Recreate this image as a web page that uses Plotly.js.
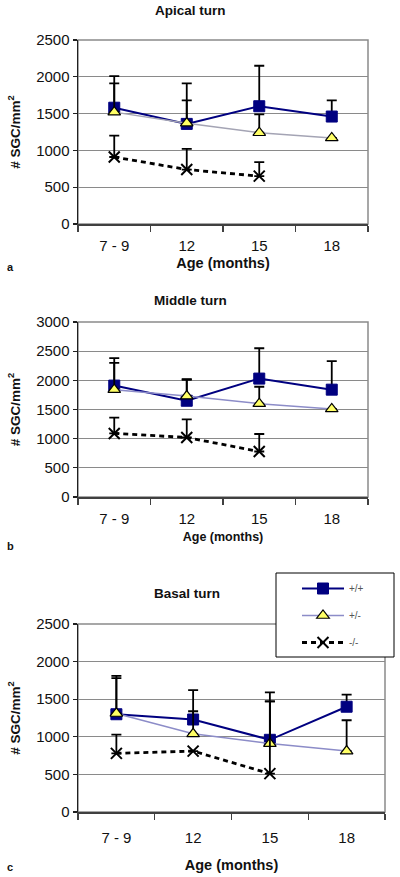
<!DOCTYPE html>
<html>
<head>
<meta charset="utf-8">
<script src="https://cdn.plot.ly/plotly-3.0.1.min.js"></script>
<style>html,body{margin:0;padding:0;background:#fff}#chart{width:400px;height:877px}</style>
</head>
<body>
<div id="chart"></div>
<script>
// ---- data ----
const categories = ['7 - 9', '12', '15', '18'];
const seriesNames = ['+/+', '+/-', '-/-'];
const panelTitles = ['Apical turn', 'Middle turn', 'Basal turn'];
const panelLetters = ['a', 'b', 'c'];
const xTitle = 'Age (months)';
const yTitle = '# SGC/mm<sup>2</sup>';
const yMax = [2500, 3000, 2500];

// Apical turn
const apicalWT = [1580, 1360, 1600, 1460];
const apicalWTErr = [430, 550, 550, 220];
const apicalHet = [1520, 1370, 1240, 1170];
const apicalHetErr = [390, 310, 250, 0];
const apicalKO = [910, 740, 650, null];
const apicalKOErr = [290, 280, 190, 0];

// Middle turn
const middleWT = [1910, 1650, 2030, 1840];
const middleWTErr = [470, 370, 520, 490];
const middleHet = [1840, 1730, 1600, 1510];
const middleHetErr = [460, 280, 290, 0];
const middleKO = [1090, 1020, 780, null];
const middleKOErr = [270, 310, 300, 0];

// Basal turn
const basalWT = [1300, 1230, 960, 1400];
const basalWTErr = [510, 390, 630, 160];
const basalHet = [1310, 1040, 910, 810];
const basalHetErr = [470, 300, 560, 410];
const basalKO = [780, 810, 510, null];
const basalKOErr = [250, 0, 960, 0];

const panels = [
  {wt: apicalWT, wtErr: apicalWTErr, het: apicalHet, hetErr: apicalHetErr, ko: apicalKO, koErr: apicalKOErr, hetColor: '#a4a4b4'},
  {wt: middleWT, wtErr: middleWTErr, het: middleHet, hetErr: middleHetErr, ko: middleKO, koErr: middleKOErr, hetColor: '#8c8cc8'},
  {wt: basalWT, wtErr: basalWTErr, het: basalHet, hetErr: basalHetErr, ko: basalKO, koErr: basalKOErr, hetColor: '#8c8cc8'}
];

// ---- layout geometry (pixels) ----
const W = 400, H = 877;
const FONT = 'Liberation Sans, Arial, sans-serif';
const boxes = [
  {l: 78, r: 368, t: 40, b: 224, titleY: 11, letterY: 267, titleX: 190, tls: 7, xts: 5, xtSize: 14.5},
  {l: 78, r: 368, t: 322, b: 497, titleY: 300, letterY: 546, titleX: 190, tls: 7, xts: 6, xtSize: 12.5},
  {l: 78, r: 385, t: 624, b: 812, titleY: 593, letterY: 867, titleX: 187, tls: 11, xts: 15, xtSize: 14.5}
];
const px = v => v / W;
const py = v => 1 - v / H;

function errBar(arr) {
  return {type: 'data', symmetric: false, array: arr, arrayminus: arr.map(() => 0),
          color: '#000', thickness: 1.8, width: 5, visible: true};
}

const traces = [];
panels.forEach((p, i) => {
  const xa = i === 0 ? 'x' : 'x' + (i + 1);
  const ya = i === 0 ? 'y' : 'y' + (i + 1);
  const leg = i === 2;
  traces.push({
    type: 'scatter', mode: 'lines+markers', name: seriesNames[0], legendgroup: 'g1', showlegend: leg,
    x: categories, y: p.wt, xaxis: xa, yaxis: ya, error_y: errBar(p.wtErr),
    line: {color: '#000080', width: 2},
    marker: {symbol: 'square', size: 11, color: '#000080', line: {color: '#000080', width: 1}}
  });
  traces.push({
    type: 'scatter', mode: 'lines+markers', name: seriesNames[1], legendgroup: 'g2', showlegend: leg,
    x: categories, y: p.het, xaxis: xa, yaxis: ya, error_y: errBar(p.hetErr),
    line: {color: p.hetColor, width: 1.5},
    marker: {symbol: 'triangle-up', size: 11, color: '#ffff66', line: {color: '#000', width: 1.2}}
  });
  traces.push({
    type: 'scatter', mode: 'lines+markers', name: seriesNames[2], legendgroup: 'g3', showlegend: leg,
    x: categories, y: p.ko, xaxis: xa, yaxis: ya, error_y: errBar(p.koErr),
    line: {color: '#000', width: 2.8, dash: '5px,4px'},
    marker: {symbol: 'x-thin', size: 11, color: '#000', line: {color: '#000', width: 2}}
  });
});

const layout = {
  width: W, height: H,
  margin: {l: 0, r: 0, t: 0, b: 0},
  paper_bgcolor: '#fff', plot_bgcolor: 'rgba(0,0,0,0)',
  showlegend: true,
  legend: {
    x: px(297), y: py(574), xanchor: 'left', yanchor: 'top',
    bgcolor: 'rgba(0,0,0,0)', borderwidth: 0,
    font: {family: FONT, size: 10, color: '#555'},
    itemwidth: 42, tracegroupgap: 8, traceorder: 'grouped'
  },
  annotations: [],
  shapes: []
};

boxes.forEach((b, i) => {
  const sfx = i === 0 ? '' : String(i + 1);
  layout['xaxis' + sfx] = {
    domain: [px(b.l), px(b.r)], anchor: 'y' + sfx,
    type: 'category', range: [-0.5, 3.5], tickson: 'boundaries',
    ticks: 'outside', ticklen: 6, tickwidth: 1.2, tickcolor: '#404040',
    ticklabelstandoff: b.tls,
    showline: true, linecolor: '#404040', linewidth: 1.5,
    showgrid: false, zeroline: false, fixedrange: true,
    tickfont: {family: FONT, size: 15, color: '#111'},
    title: {text: xTitle, standoff: b.xts,
            font: {family: FONT, size: b.xtSize, weight: 'bold', color: '#111'}}
  };
  layout['yaxis' + sfx] = {
    domain: [py(b.b), py(b.t)], anchor: 'x' + sfx,
    range: [0, yMax[i]], dtick: 500, tick0: 0,
    ticks: 'outside', ticklen: 4, tickwidth: 1.2, tickcolor: '#202020',
    showline: true, linecolor: '#202020', linewidth: 1.5,
    showgrid: true, gridcolor: '#8a8a8a', gridwidth: 1.3,
    zeroline: false, fixedrange: true,
    tickfont: {family: FONT, size: 15, color: '#111'},
    title: {text: yTitle, standoff: 12, font: {family: FONT, size: 13.5, weight: 'bold', color: '#111'}}
  };
  layout.shapes.push({
    type: 'rect', xref: 'x' + sfx + ' domain', yref: 'y' + sfx + ' domain',
    x0: 0, x1: 1, y0: 0, y1: 1, line: {color: '#8a8a8a', width: 1.5}, layer: 'below'
  });
  layout.annotations.push({
    xref: 'paper', yref: 'paper', x: px(b.titleX), y: py(b.titleY),
    xanchor: 'center', yanchor: 'middle', showarrow: false,
    text: panelTitles[i], font: {family: FONT, size: 13.5, weight: 'bold', color: '#111'}
  });
  layout.annotations.push({
    xref: 'paper', yref: 'paper', x: px(5), y: py(b.letterY),
    xanchor: 'left', yanchor: 'middle', showarrow: false,
    text: panelLetters[i], font: {family: FONT, size: 11, weight: 'bold', color: '#111'}
  });
});

// legend frame
layout.shapes.push({
  type: 'rect', xref: 'paper', yref: 'paper',
  x0: px(276), x1: px(394), y0: py(657), y1: py(573),
  fillcolor: '#fff', line: {color: '#000', width: 1}, layer: 'above'
});

Plotly.newPlot('chart', traces, layout, {staticPlot: true, displayModeBar: false});
</script>
</body>
</html>
